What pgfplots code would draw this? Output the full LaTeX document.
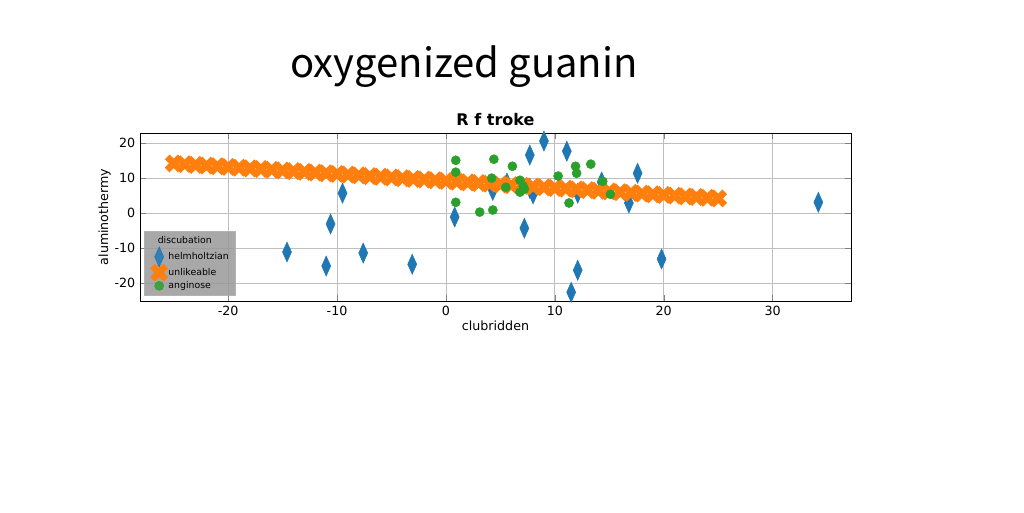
\documentclass[border=0pt]{standalone}
\usepackage{pgfplots}
\pgfplotsset{compat=1.18}
\usepackage{fontspec}
\setmainfont{DejaVu Sans}
\newfontfamily\cjk{Noto Sans CJK JP}
\definecolor{mblue}{HTML}{1F77B4}
\definecolor{morange}{HTML}{FF7F0E}
\definecolor{mgreen}{HTML}{2CA02C}
\begin{document}
\begin{tikzpicture}
\path (0,0) rectangle (768pt,384pt);
\node at (348pt,334pt) {\cjk\fontsize{30}{32}\selectfont oxygenized guanin};
\begin{axis}[
  at={(105pt,158.25pt)}, anchor=south west,
  scale only axis, width=533.25pt, height=126pt,
  xmin=-28.1, xmax=37.2, ymin=-25.1, ymax=22.9,
  xtick={-20,-10,0,10,20,30}, ytick={-20,-10,0,10,20},
  grid=major, grid style={gray!50, line width=0.6pt},
  tick label style={font=\fontsize{9.5}{10}\selectfont},
  /pgf/number format/assume math mode=true,
  xlabel={clubridden}, ylabel={aluminothermy},
  label style={font=\fontsize{9.5}{10}\selectfont},
  xlabel style={yshift=3pt}, ylabel style={yshift=-4pt},
  title={\textbf{R f troke}}, title style={font=\fontsize{12}{13}\selectfont, yshift=-4pt},
  legend style={fill=gray!80, fill opacity=0.85, text opacity=1, draw=gray!60, font=\fontsize{7}{8}\selectfont, row sep=-1pt, at={(0.005,0.03)}, anchor=south west},
  legend cell align=left,
]
\addlegendimage{empty legend}\addlegendentry{\hspace{-8pt}discubation}
\addplot[only marks, mark=diamond*, mark size=7.5pt, mark options={fill=mblue, draw=mblue, xscale=0.6}] coordinates {
(-14.6,-11.1) (-11.0,-15.1) (-10.6,-3.1) (-9.5,5.7) (-7.6,-11.4) (-3.1,-14.6) (0.8,-1.1)
(7.2,-4.3) (7.7,16.6) (9.0,20.6) (11.1,17.7) (11.5,-22.6) (12.1,-16.3) (12.1,5.7)
(14.3,8.9) (16.8,2.9) (17.6,11.4) (19.8,-13.1) (34.2,3.1) (5.6,8.6) (7.7,7.1) (4.3,6.5) (8.0,5.5)};
\addlegendentry{helmholtzian}
\addplot[only marks, mark=x, mark size=7pt, mark options={draw=morange, line width=5pt}] coordinates {
(-25.0,14.2) (-24.0,14.0) (-23.0,13.8) (-22.0,13.6) (-21.0,13.4) (-20.0,13.2) (-19.0,13.0) (-18.0,12.8) (-17.0,12.6) (-16.0,12.4)
(-15.0,12.2) (-14.0,12.0) (-13.0,11.8) (-12.0,11.6) (-11.0,11.4) (-10.0,11.2) (-9.0,11.0) (-8.0,10.8) (-7.0,10.6) (-6.0,10.4)
(-5.0,10.2) (-4.0,10.0) (-3.0,9.8) (-2.0,9.6) (-1.0,9.4) (0.0,9.2) (1.0,9.0) (2.0,8.8) (3.0,8.6) (4.0,8.4)
(5.0,8.2) (6.0,8.0) (7.0,7.8) (8.0,7.6) (9.0,7.4) (10.0,7.2) (11.0,7.0) (12.0,6.8) (13.0,6.6) (14.0,6.4)
(15.0,6.2) (16.0,6.0) (17.0,5.8) (18.0,5.6) (19.0,5.4) (20.0,5.2) (21.0,5.0) (22.0,4.8) (23.0,4.6) (24.0,4.4) (25.0,4.2)};
\addlegendentry{unlikeable}
\addplot[only marks, mark=*, mark size=3.4pt, mark options={fill=mgreen, draw=mgreen}] coordinates {
(0.9,15.1) (0.9,11.7) (0.9,3.1) (3.1,0.3) (4.3,0.9) (4.4,15.4) (4.2,10.0) (5.5,7.4) (6.1,13.4) (6.8,9.4)
(7.1,7.7) (6.8,6.0) (7.2,6.9) (10.3,10.6) (11.3,2.9) (11.9,13.4) (12.0,11.4) (13.3,14.0) (14.4,9.1) (15.1,5.4)};
\addlegendentry{anginose}
\end{axis}
\end{tikzpicture}
\end{document}
